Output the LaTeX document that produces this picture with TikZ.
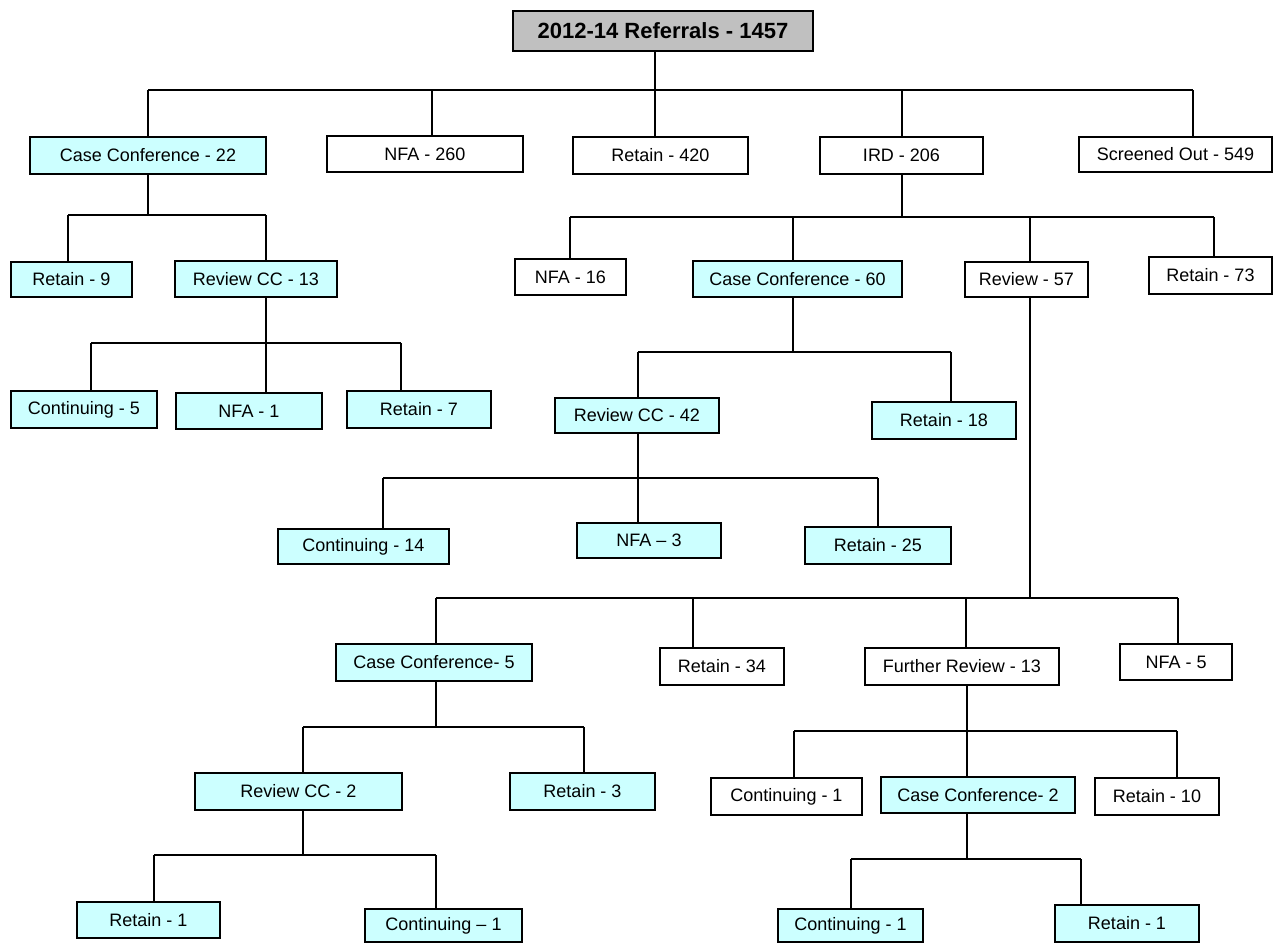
\documentclass[tikz,border=0pt]{standalone}
\usepackage{fontspec}
\setmainfont{Liberation Sans}
\definecolor{cyanfill}{HTML}{CCFFFF}
\definecolor{rootfill}{HTML}{C0C0C0}
\tikzset{
  x=0.5pt, y=-0.5pt,
  boxbase/.style={draw=black, line width=0.8pt, inner sep=0pt, font=\fontsize{9}{10}\selectfont},
  cy/.style={boxbase, fill=cyanfill},
  wh/.style={boxbase, fill=white},
  rt/.style={boxbase, fill=rootfill, font=\fontsize{11}{12}\selectfont\bfseries},
  link/.style={draw=black, line width=0.75pt}
}
\newcommand{\mybox}[7]{%
  \node[#2, minimum width={(#5-#3)*0.5pt}, minimum height={(#6-#4)*0.5pt}]
    (#1) at ({(#3+#5)/2},{(#4+#6)/2}) {#7};}
\begin{document}
\begin{tikzpicture}
\useasboundingbox (0,0) rectangle (1274,943);
% nodes
\mybox{root}{rt}{513}{11}{813}{51}{2012-14 Referrals - 1457}
\mybox{cc22}{cy}{30}{137}{266}{174}{Case Conference - 22}
\mybox{nfa260}{wh}{327}{136}{523}{172}{NFA - 260}
\mybox{ret420}{wh}{573}{137}{748}{174}{Retain - 420}
\mybox{ird}{wh}{820}{137}{983}{174}{IRD - 206}
\mybox{scr}{wh}{1079}{137}{1272}{172}{Screened Out - 549}
\mybox{ret9}{cy}{11}{262}{132}{297}{Retain - 9}
\mybox{rcc13}{cy}{175}{261}{337}{297}{Review CC - 13}
\mybox{nfa16}{wh}{515}{259}{626}{295}{NFA - 16}
\mybox{cc60}{cy}{693}{261}{902}{297}{Case Conference - 60}
\mybox{rev57}{wh}{965}{262}{1088}{297}{Review - 57}
\mybox{ret73}{wh}{1149}{257}{1272}{294}{Retain - 73}
\mybox{cont5}{cy}{11}{391}{157}{428}{Continuing - 5}
\mybox{nfa1}{cy}{176}{393}{322}{429}{NFA - 1}
\mybox{ret7}{cy}{347}{391}{491}{428}{Retain - 7}
\mybox{rcc42}{cy}{555}{398}{719}{433}{Review CC - 42}
\mybox{ret18}{cy}{872}{402}{1016}{439}{Retain - 18}
\mybox{cont14}{cy}{278}{529}{449}{564}{Continuing - 14}
\mybox{nfa3}{cy}{577}{523}{721}{558}{NFA – 3}
\mybox{ret25}{cy}{805}{527}{951}{564}{Retain - 25}
\mybox{cc5}{cy}{336}{644}{532}{681}{Case Conference- 5}
\mybox{ret34}{wh}{660}{648}{784}{685}{Retain - 34}
\mybox{frev}{wh}{865}{648}{1059}{685}{Further Review - 13}
\mybox{nfa5}{wh}{1120}{644}{1232}{680}{NFA - 5}
\mybox{rcc2}{cy}{195}{773}{402}{810}{Review CC - 2}
\mybox{ret3}{cy}{510}{773}{655}{810}{Retain - 3}
\mybox{cont1w}{wh}{711}{778}{862}{815}{Continuing - 1}
\mybox{cc2}{cy}{881}{777}{1075}{813}{Case Conference- 2}
\mybox{ret10}{wh}{1095}{778}{1219}{815}{Retain - 10}
\mybox{ret1a}{cy}{77}{902}{220}{938}{Retain - 1}
\mybox{cont1a}{cy}{365}{909}{522}{942}{Continuing – 1}
\mybox{cont1b}{cy}{778}{909}{923}{942}{Continuing - 1}
\mybox{ret1b}{cy}{1055}{905}{1199}{942}{Retain - 1}
% bus junctions
\coordinate (a0) at (655,90);
\coordinate (a1) at (148,90);  \coordinate (a2) at (432,90);
\coordinate (a3) at (655,90);  \coordinate (a4) at (902,90);
\coordinate (a5) at (1193,90);
\coordinate (b0) at (148,215); \coordinate (b1) at (68,215); \coordinate (b2) at (266,215);
\coordinate (c0) at (902,217); \coordinate (c1) at (570,217); \coordinate (c2) at (793,217);
\coordinate (c3) at (1030,217); \coordinate (c4) at (1214,217);
\coordinate (d0) at (266,343); \coordinate (d1) at (91,343); \coordinate (d2) at (266,343);
\coordinate (d3) at (401,343);
\coordinate (e0) at (793,352); \coordinate (e1) at (638,352); \coordinate (e2) at (951,352);
\coordinate (f0) at (638,478); \coordinate (f1) at (383,478); \coordinate (f2) at (638,478);
\coordinate (f3) at (878,478);
\coordinate (g0) at (1030,598); \coordinate (g1) at (436,598); \coordinate (g2) at (693,598);
\coordinate (g3) at (966,598); \coordinate (g4) at (1178,598);
\coordinate (h0) at (436,727); \coordinate (h1) at (303,727); \coordinate (h2) at (584,727);
\coordinate (i0) at (967,731); \coordinate (i1) at (794,731); \coordinate (i2) at (967,731);
\coordinate (i3) at (1177,731);
\coordinate (k0) at (303,855); \coordinate (k1) at (154,855); \coordinate (k2) at (436,855);
\coordinate (m0) at (967,859); \coordinate (m1) at (851,859); \coordinate (m2) at (1081,859);
% connectors
\path[link] (root.south -| a0) -- (a0) (a1) -- (a5)
  (cc22.north -| a1) -- (a1) (nfa260.north -| a2) -- (a2) (ret420.north -| a3) -- (a3)
  (ird.north -| a4) -- (a4) (scr.north -| a5) -- (a5);
\path[link] (cc22.south -| b0) -- (b0) (b1) -- (b2)
  (ret9.north -| b1) -- (b1) (rcc13.north -| b2) -- (b2);
\path[link] (ird.south -| c0) -- (c0) (c1) -- (c4)
  (nfa16.north -| c1) -- (c1) (cc60.north -| c2) -- (c2)
  (rev57.north -| c3) -- (c3) (ret73.north -| c4) -- (c4);
\path[link] (rcc13.south -| d0) -- (d0) (d1) -- (d3)
  (cont5.north -| d1) -- (d1) (nfa1.north -| d2) -- (d2) (ret7.north -| d3) -- (d3);
\path[link] (cc60.south -| e0) -- (e0) (e1) -- (e2)
  (rcc42.north -| e1) -- (e1) (ret18.north -| e2) -- (e2);
\path[link] (rcc42.south -| f0) -- (f0) (f1) -- (f3)
  (cont14.north -| f1) -- (f1) (nfa3.north -| f2) -- (f2) (ret25.north -| f3) -- (f3);
\path[link] (rev57.south -| g0) -- (g0) (g1) -- (g4)
  (cc5.north -| g1) -- (g1) (ret34.north -| g2) -- (g2)
  (frev.north -| g3) -- (g3) (nfa5.north -| g4) -- (g4);
\path[link] (cc5.south -| h0) -- (h0) (h1) -- (h2)
  (rcc2.north -| h1) -- (h1) (ret3.north -| h2) -- (h2);
\path[link] (frev.south -| i0) -- (i0) (i1) -- (i3)
  (cont1w.north -| i1) -- (i1) (cc2.north -| i2) -- (i2) (ret10.north -| i3) -- (i3);
\path[link] (rcc2.south -| k0) -- (k0) (k1) -- (k2)
  (ret1a.north -| k1) -- (k1) (cont1a.north -| k2) -- (k2);
\path[link] (cc2.south -| m0) -- (m0) (m1) -- (m2)
  (cont1b.north -| m1) -- (m1) (ret1b.north -| m2) -- (m2);
\end{tikzpicture}
\end{document}
